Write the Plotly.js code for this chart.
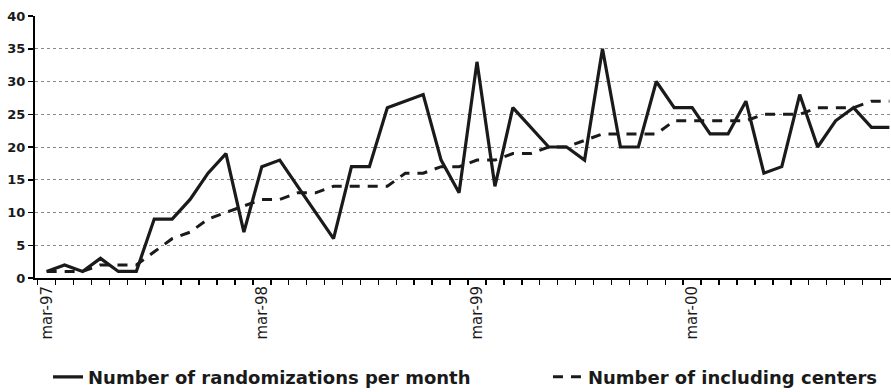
<!DOCTYPE html>
<html>
<head>
<meta charset="utf-8">
<script src="https://cdn.plot.ly/plotly-3.0.1.min.js"></script>
<style>html,body{margin:0;padding:0;background:#fff;}#chart{width:891px;height:392px;}</style>
</head>
<body>
<div id="chart"></div>
<script>
const months = ["mar-97","apr-97","may-97","jun-97","jul-97","aug-97","sep-97","oct-97","nov-97","dec-97","jan-98","feb-98",
"mar-98","apr-98","may-98","jun-98","jul-98","aug-98","sep-98","oct-98","nov-98","dec-98","jan-99","feb-99",
"mar-99","apr-99","may-99","jun-99","jul-99","aug-99","sep-99","oct-99","nov-99","dec-99","jan-00","feb-00",
"mar-00","apr-00","may-00","jun-00","jul-00","aug-00","sep-00","oct-00","nov-00","dec-00","jan-01","feb-01"];
const randomizations = [1,2,1,3,1,1,9,9,12,16,19,7,17,18,14,10,6,17,17,26,27,28,18,13,33,14,26,23,20,20,18,35,20,20,30,26,26,22,22,27,16,17,28,20,24,26,23,23];
const centers = [1,1,1,2,2,2,4,6,7,9,10,11,12,12,13,13,14,14,14,14,16,16,17,17,18,18,19,19,20,20,21,22,22,22,22,24,24,24,24,24,25,25,25,26,26,26,27,27];
const tickLabels = ["mar-97","mar-98","mar-99","mar-00"];
const yTicks = [0,5,10,15,20,25,30,35,40];

const tickText = months.map(m => tickLabels.includes(m) ? m : "");
const legendFont = {family: "DejaVu Sans", size: 18, color: "#1a1a1a", weight: "bold"};

const traces = [
  {
    x: months, y: centers, type: "scatter", mode: "lines",
    name: "Number of including centers", legend: "legend2",
    line: {color: "#1a1a1a", width: 3, dash: "10px,8px"}
  },
  {
    x: months, y: randomizations, type: "scatter", mode: "lines",
    name: "Number of randomizations per month", legend: "legend",
    line: {color: "#1a1a1a", width: 3.2}
  }
];

const layout = {
  width: 891, height: 392,
  margin: {l: 35, r: 0, t: 16, b: 114},
  paper_bgcolor: "#fff", plot_bgcolor: "#fff",
  showlegend: true,
  legend: {
    orientation: "h", xref: "container", yref: "container",
    x: 0.0539, y: 0.038, xanchor: "left", yanchor: "middle",
    font: legendFont, bgcolor: "rgba(0,0,0,0)"
  },
  legend2: {
    orientation: "h", xref: "container", yref: "container",
    x: 0.615, y: 0.038, xanchor: "left", yanchor: "middle",
    font: legendFont, bgcolor: "rgba(0,0,0,0)"
  },
  xaxis: {
    type: "category",
    range: [-0.65, 47.09],
    tickmode: "array", tickvals: months, ticktext: tickText,
    tickson: "boundaries",
    ticks: "outside", ticklen: 5, tickwidth: 1.5, tickcolor: "#000",
    tickangle: -90,
    tickfont: {family: "DejaVu Sans", size: 15, color: "#1a1a1a"},
    showline: true, linecolor: "#000", linewidth: 2,
    showgrid: false, zeroline: false, fixedrange: true
  },
  yaxis: {
    range: [0, 40],
    tickmode: "array", tickvals: yTicks,
    ticks: "outside", ticklen: 5, tickwidth: 1.5, tickcolor: "#000",
    tickfont: {family: "DejaVu Sans", size: 13, color: "#1a1a1a", weight: "bold"},
    showline: true, linecolor: "#000", linewidth: 2,
    showgrid: true, gridcolor: "#8a8a8a", gridwidth: 1, griddash: "dot",
    zeroline: false, fixedrange: true
  }
};

Plotly.newPlot("chart", traces, layout, {displayModeBar: false, staticPlot: true});
</script>
</body>
</html>
